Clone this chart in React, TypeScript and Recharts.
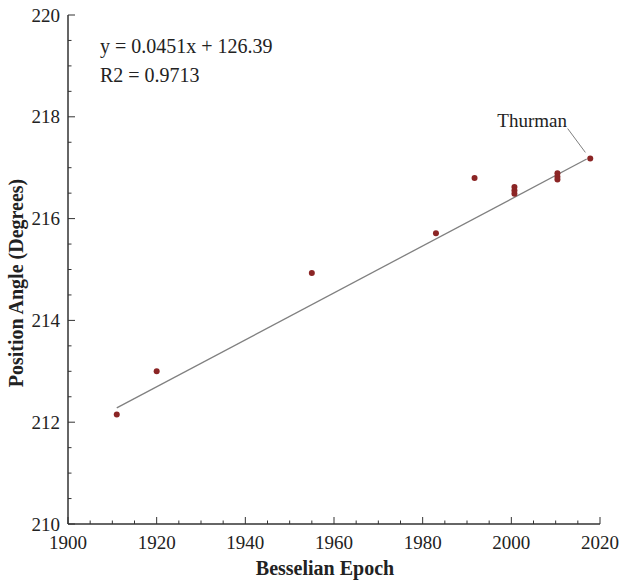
import React from "react";
import {
  ScatterChart,
  Scatter,
  XAxis,
  YAxis,
  ReferenceLine,
  ReferenceDot,
} from "recharts";

// measured points (Besselian epoch vs position angle)
const epochs = [1911, 1920, 1955, 1983, 1991.7, 2000.7, 2000.7, 2000.7, 2010.4, 2010.4, 2010.4, 2017.8];
const angles = [212.15, 213.0, 214.93, 215.71, 216.8, 216.62, 216.55, 216.49, 216.89, 216.82, 216.77, 217.18];

// trend line end points, as drawn
const trendX = [1911, 2017];
const trendY = [212.28, 217.17];

// leader line for the Thurman label
const leaderX = [2012.7, 2016.7];
const leaderY = [217.77, 217.3];
const thurman = { x: 2004.7, y: 217.94, text: "Thurman" };

const xTicks = [1900, 1905, 1910, 1915, 1920, 1925, 1930, 1935, 1940, 1945, 1950, 1955, 1960, 1965, 1970, 1975, 1980, 1985, 1990, 1995, 2000, 2005, 2010, 2015, 2020];
const yTicks = [210, 210.5, 211, 211.5, 212, 212.5, 213, 213.5, 214, 214.5, 215, 215.5, 216, 216.5, 217, 217.5, 218, 218.5, 219, 219.5, 220];

const equation = ["y = 0.0451x + 126.39", "R2 = 0.9713"];

const data = epochs.map((e, i) => ({ x: e, y: angles[i] }));

const FONT = '"Liberation Serif", "DejaVu Serif", serif';
const AXIS = "#333";
const MAJOR = 7;
const MINOR = 3.5;

const isMajorX = (v: number) => v % 20 === 0;
const isMajorY = (v: number) => v % 2 === 0;

const BottomTick = ({ x, y, payload }: any) => {
  const major = isMajorX(payload.value);
  return (
    <g>
      <line x1={x} y1={y} x2={x} y2={y - (major ? MAJOR : MINOR)} stroke={AXIS} strokeWidth={1} />
      {major && (
        <text x={x} y={y + 25} textAnchor="middle" fontSize={19} fontFamily={FONT} fill="#222">
          {payload.value}
        </text>
      )}
    </g>
  );
};

const TopTick = ({ x, y, payload }: any) => {
  const major = isMajorX(payload.value);
  return <line x1={x} y1={y} x2={x} y2={y + (major ? MAJOR : MINOR)} stroke={AXIS} strokeWidth={1} />;
};

const LeftTick = ({ x, y, payload }: any) => {
  const major = isMajorY(payload.value);
  return (
    <g>
      <line x1={x} y1={y} x2={x + (major ? MAJOR : MINOR)} y2={y} stroke={AXIS} strokeWidth={1} />
      {major && (
        <text x={x - 8} y={y + 6.5} textAnchor="end" fontSize={19} fontFamily={FONT} fill="#222">
          {payload.value}
        </text>
      )}
    </g>
  );
};

const RightTick = ({ x, y, payload }: any) => {
  const major = isMajorY(payload.value);
  return <line x1={x} y1={y} x2={x - (major ? MAJOR : MINOR)} y2={y} stroke={AXIS} strokeWidth={1} />;
};

const XTitle = ({ viewBox }: any) => (
  <text
    x={viewBox.x + viewBox.width / 2 - 9}
    y={viewBox.y + viewBox.height - 7}
    textAnchor="middle"
    fontSize={20}
    fontWeight="bold"
    fontFamily={FONT}
    fill="#222"
  >
    Besselian Epoch
  </text>
);

const YTitle = () => (
  <text
    transform="translate(23, 283) rotate(-90)"
    textAnchor="middle"
    fontSize={20}
    fontWeight="bold"
    fontFamily={FONT}
    fill="#222"
  >
    Position Angle (Degrees)
  </text>
);

export default function App() {
  return (
    <div style={{ position: "absolute", left: 0, top: 0, width: 621, height: 582, background: "#fff" }}>
      <ScatterChart width={621} height={582} margin={{ top: 15, right: 21, left: 0, bottom: 0 }}>
        <XAxis
          dataKey="x"
          type="number"
          domain={[1900, 2020]}
          ticks={xTicks}
          interval={0}
          height={58}
          tickSize={0}
          tickMargin={0}
          tick={<BottomTick />}
          axisLine={{ stroke: AXIS, strokeWidth: 1.5 }}
          label={<XTitle />}
        />
        <XAxis
          xAxisId="top"
          orientation="top"
          dataKey="x"
          type="number"
          domain={[1900, 2020]}
          ticks={xTicks}
          interval={0}
          height={0}
          tickSize={0}
          tickMargin={0}
          tick={<TopTick />}
          axisLine={{ stroke: AXIS, strokeWidth: 1.5 }}
        />
        <YAxis
          dataKey="y"
          type="number"
          domain={[210, 220]}
          ticks={yTicks}
          interval={0}
          width={68}
          tickSize={0}
          tickMargin={0}
          tick={<LeftTick />}
          axisLine={{ stroke: AXIS, strokeWidth: 1.5 }}
          label={<YTitle />}
        />
        <YAxis
          yAxisId="right"
          orientation="right"
          dataKey="y"
          type="number"
          domain={[210, 220]}
          ticks={yTicks}
          interval={0}
          width={0}
          tickSize={0}
          tickMargin={0}
          tick={<RightTick />}
          axisLine={{ stroke: AXIS, strokeWidth: 1.5 }}
        />
        <ReferenceLine
          segment={[{ x: trendX[0], y: trendY[0] }, { x: trendX[1], y: trendY[1] }]}
          stroke="#808080"
          strokeWidth={1.3}
        />
        <ReferenceLine
          segment={[{ x: leaderX[0], y: leaderY[0] }, { x: leaderX[1], y: leaderY[1] }]}
          stroke="#808080"
          strokeWidth={1}
        />
        <ReferenceDot
          x={thurman.x}
          y={thurman.y}
          r={0}
          stroke="none"
          label={{ value: thurman.text, position: "center", fontSize: 19, fontFamily: FONT, fill: "#222" }}
        />
        <Scatter data={data} fill="#8b2525" isAnimationActive={false} shape={(p: any) => <circle cx={p.cx} cy={p.cy} r={3} fill="#8b2525" />} />
      </ScatterChart>
      <div
        style={{
          position: "absolute",
          left: 100,
          top: 32,
          fontFamily: FONT,
          fontSize: 20,
          lineHeight: "29px",
          color: "#222",
          whiteSpace: "pre",
        }}
      >
        {equation.map((t) => (
          <div key={t}>{t}</div>
        ))}
      </div>
    </div>
  );
}
